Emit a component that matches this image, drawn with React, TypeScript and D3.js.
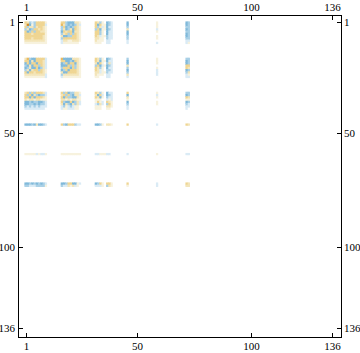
import React from "react";
import * as d3 from "d3";

const rowIndex = [1,2,3,4,5,6,7,8,9,10,17,18,19,20,21,22,23,24,25,32,33,34,35,36,37,38,39,46,59,72,73];
const colIndex = rowIndex;
const tickValues = [1, 50, 100, 136];

const block1 = [
  [3,2,-2,-1,-2,3,3,3,3,1, 3,3,-2,-3,-3,-3,2,2,1, 3,2,-2,1,0,-3,-2,-1, -3, 1, -3,-2],
  [2,5,-3,1,-2,3,3,3,3,-1, 4,2,-2,-3,-2,-3,-2,2,-1, 3,-3,3,1,1,-3,-2,-1, -3, 1, -3,-2],
  [3,-2,2,2,-2,2,3,3,2,1, -2,3,-3,-2,-3,-2,3,2,1, 3,-2,2,-1,1,-3,-1,-1, -2, 1, -2,-2],
  [-2,2,-3,-2,3,3,2,3,2,1, -2,2,-3,-2,2,-3,3,2,1, -2,3,-3,1,1,-3,-2,-1, 2, -1, -3,-2],
  [3,-3,-2,3,-2,3,3,2,2,1, -3,3,2,3,3,-3,2,2,1, 3,3,-2,1,0,-3,-1,-1, -3, 1, -2,-2],
  [3,3,3,2,3,3,3,3,3,1, -2,2,3,-2,3,-2,3,2,1, 3,3,-2,1,0,-3,-1,-1, -3, 0, -3,-2],
  [3,3,3,3,3,3,3,3,2,1, 2,-3,-3,-2,-2,3,3,2,1, 3,2,-1,1,1,-2,-1,-1, -2, 1, -3,-2],
  [3,3,3,2,3,3,3,3,2,1, -2,3,3,3,3,3,3,2,1, 2,2,1,1,0,-2,-1,-1, -2, 1, -2,-2],
  [2,2,2,2,2,2,2,2,2,1, -1,2,2,1,1,2,2,2,1, 2,1,1,1,0,-1,-1,0, -1, 0, -1,-1],
  [1,1,1,1,1,1,1,1,1,1, -1,1,1,1,1,1,1,1,0, 1,1,1,0,0,-1,-1,0, -1, -1, -1,1],
];
const block2 = [
  [2,4,-2,-3,-3,3,3,3,3,-1, 4,-3,-3,-3,-3,2,2,2,1, 3,2,-2,1,0,-3,-2,-1, -2, 1, -2,-2],
  [3,3,-3,2,-3,3,3,3,2,-1, 3,3,-3,-3,-2,-3,3,2,1, 3,2,-3,1,1,-3,-1,-1, -3, 1, -3,-2],
  [-3,3,-3,3,3,-3,3,3,2,-1, -3,-2,3,-3,3,3,-3,2,1, 2,-3,3,1,0,-2,2,-1, -3, 1, -3,-2],
  [-2,-3,2,-3,3,3,-2,3,2,-1, -3,-3,-3,3,-2,3,-2,2,1, -2,3,-3,-1,1,-3,-2,-1, 2, 0, 3,3],
  [-3,-2,2,-3,-3,3,-3,-2,2,-1, -2,3,3,3,-3,3,-2,2,1, 3,2,-2,1,0,-3,-1,-1, -2, 1, 3,2],
  [-2,2,-3,2,3,3,-2,3,2,1, -3,-2,3,-3,3,3,3,2,1, 3,2,-1,1,0,-2,-2,-1, -3, -1, -3,-2],
  [3,-3,3,3,2,3,3,3,2,1, 2,-3,-3,3,3,3,3,2,1, 2,2,-1,1,1,-2,-1,-1, -2, -1, -2,2],
  [2,2,2,2,2,2,2,2,2,-1, -2,2,2,2,2,2,2,2,1, 2,1,1,1,0,-1,-1,0, 2, -1, -1,1],
  [1,1,1,1,1,1,1,1,1,-1, -1,1,1,1,1,1,1,1,1, 1,1,0,0,0,-1,-1,0, -1, 0, -1,-1],
];
const block3 = [
  [2,3,-2,3,-2,3,3,3,2,-1, 3,-2,3,-3,-2,-2,2,2,1, 3,2,-2,1,0,-3,-1,-1, 3, 1, -2,-2],
  [3,-2,3,-3,2,-2,-3,-2,-2,-1, 2,3,-2,3,-2,-3,2,2,-1, 2,-3,3,-1,0,-3,-2,-1, -3, -1, -3,-2],
  [3,3,-3,3,-3,3,3,3,2,1, 3,-3,3,-2,-2,-3,-3,2,1, 3,2,-3,1,0,-2,-1,-1, 2, 1, 3,2],
  [2,1,2,2,1,2,2,1,1,1, 2,2,1,2,1,2,2,1,1, 1,1,1,0,0,-1,1,-1, 1, 0, 1,1],
  [-3,-3,-2,-3,-2,-2,-3,-3,-2,-1, 3,-2,-3,-3,3,-3,-2,2,-1, 1,3,1,-1,0,3,2,1, -3, 1, -3,-2],
  [-3,-3,-2,-2,-3,-2,-3,-2,-2,-1, 2,-3,2,-2,-3,2,-2,2,-1, -1,-2,2,-1,0,-2,3,1, -2, 1, -2,-1],
  [-2,-1,-2,-1,-2,-1,-2,-1,-1,-1, -1,-2,1,-1,-2,-1,1,1,0, 1,1,1,0,0,2,2,1, -1, 0, -1,-1],
  [-1,-1,-1,-1,-1,-1,-1,-1,-1,0, -1,1,1,-1,-1,-1,1,1,0, 1,1,1,0,0,1,1,0, -1, 0, -1,0],
];
const row46 = [[-3,-3,-3,-2,-3,2,-3,-3,-2,-1, 3,-2,-3,3,3,3,-2,-1,-1, -3,-3,-2,1,0,2,2,1, 3, -1, 3,2]];
const row59 = [[1,1,1,1,1,-1,1,-1,-1,1, 1,1,1,1,1,1,1,1,1, -1,-1,1,1,1,-1,-1,0, -1, 1, -1,-1]];
const rows72 = [
  [-3,-3,-2,-3,-2,-3,-2,-3,-2,-1, -3,-3,-2,3,3,-3,-3,1,-1, -3,-2,3,1,0,3,3,1, 3, -1, 3,2],
  [-2,-2,-1,-1,-1,-2,-2,-2,-2,1, -2,-1,-1,2,1,2,-1,1,0, -1,-1,-1,1,0,-2,2,1, 1, -1, 2,2],
];
const matrix = [...block1, ...block2, ...block3, ...row46, ...row59, ...rows72];

const colorScale = d3
  .scaleLinear<string>()
  .domain([-3, -2, -1, 0, 1, 2, 3, 4, 5])
  .range(["#80b9da", "#a9d0e6", "#daebf5", "#ffffff", "#f7f2de", "#f3e5b9", "#efd592", "#e9bb62", "#d98c22"]);

const W = 360, H = 353;
const L = 18.5, R = 341.5, T = 15.5, B = 337.5;

export default function App() {
  const indices = d3.range(1, 137);
  const x = d3.scaleBand<number>().domain(indices).range([24.4, 24.4 + 136 * 2.268]);
  const y = d3.scaleBand<number>().domain(indices).range([21.4, 21.4 + 136 * 2.268]);
  const cx = (v: number) => Math.round(x(v)! + x.bandwidth() / 2 + 0.5) + 0.5;
  const cy = (v: number) => Math.round(y(v)! + y.bandwidth() / 2 - 0.4) + 0.5;
  const font = { fontFamily: "'Liberation Serif'", fontSize: 11, fill: "#000" };
  return (
    <svg
      width={W}
      height={H}
      style={{ position: "absolute", left: 0, top: 0, background: "#fff" }}
    >
      <g>
        {matrix.map((row, i) =>
          row.map((v, j) => (
            <rect
              key={`${i}-${j}`}
              x={x(colIndex[j])}
              y={y(rowIndex[i])}
              width={x.bandwidth() + (colIndex[j + 1] === colIndex[j] + 1 ? 0.6 : 0)}
              height={y.bandwidth() + (rowIndex[i + 1] === rowIndex[i] + 1 ? 0.6 : 0)}
              fill={colorScale(v)}
            />
          ))
        )}
      </g>
      <rect x={L} y={T} width={R - L} height={B - T} fill="none" stroke="#000" />
      <g stroke="#000" shapeRendering="crispEdges">
        {tickValues.map((t) => (
          <g key={t}>
            <line x1={cx(t)} x2={cx(t)} y1={T} y2={T + 4.5} />
            <line x1={cx(t)} x2={cx(t)} y1={B} y2={B - 4.5} />
            <line x1={L} x2={L + 4.5} y1={cy(t)} y2={cy(t)} />
            <line x1={R} x2={R - 4.5} y1={cy(t)} y2={cy(t)} />
          </g>
        ))}
      </g>
      <g {...font}>
        {tickValues.map((t) => (
          <g key={t}>
            <text x={cx(t)} y={11} textAnchor="middle">{t}</text>
            <text x={cx(t)} y={350} textAnchor="middle">{t}</text>
            <text x={15} y={cy(t) + 3.5} textAnchor="end">{t}</text>
            <text x={344} y={cy(t) + 3.5} textAnchor="start">{t}</text>
          </g>
        ))}
      </g>
    </svg>
  );
}
